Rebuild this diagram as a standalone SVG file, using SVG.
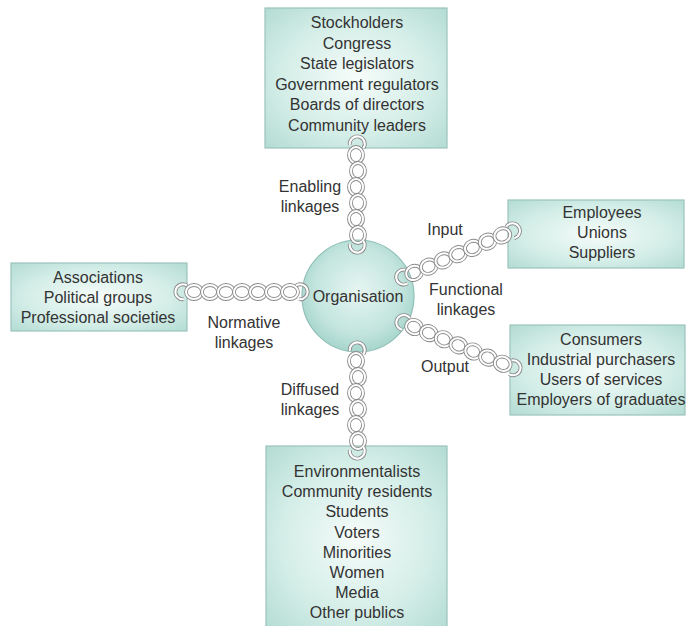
<svg xmlns="http://www.w3.org/2000/svg" xmlns:xlink="http://www.w3.org/1999/xlink" width="686" height="626" viewBox="0 0 686 626">
<defs>
<radialGradient id="boxg" cx="50%" cy="50%" r="70%">
<stop offset="0" stop-color="#f6fcfa"/>
<stop offset="0.6" stop-color="#d3ede7"/>
<stop offset="1" stop-color="#b3dcd3"/>
</radialGradient>
<radialGradient id="circg" cx="50%" cy="45%" r="55%">
<stop offset="0" stop-color="#e6f5f2"/>
<stop offset="0.7" stop-color="#c3e5de"/>
<stop offset="1" stop-color="#a6d5cc"/>
</radialGradient>
<g id="ring">
<ellipse rx="8" ry="7" class="lo"/>
<ellipse rx="8" ry="7" class="li"/>
</g>
<g id="hookS">
<path d="M 6,-6.5 A 7.5 7.5 0 1 0 3,7.2" class="lo"/>
<path d="M 6,-6.5 A 7.5 7.5 0 1 0 3,7.2" class="li"/>
</g>
<g id="hookE">
<path d="M -6,-6.5 A 7.5 7.5 0 1 1 -3,7.2" class="lo"/>
<path d="M -6,-6.5 A 7.5 7.5 0 1 1 -3,7.2" class="li"/>
</g>
</defs>
<style>
.box{fill:url(#boxg);stroke:#9cc4bc;stroke-width:1.2}
.t{font-family:"Liberation Sans",Arial,sans-serif;font-size:16px;fill:#333;text-anchor:middle}
.lo{fill:none;stroke:#8a8a8a;stroke-width:3.8}
.li{fill:none;stroke:#ffffff;stroke-width:2}
</style>
<rect width="686" height="626" fill="#ffffff"/>

<g id="top">
<rect class="box" x="265" y="8" width="182" height="140"/>
<text class="t" x="357" y="28">Stockholders</text>
<text class="t" x="357" y="48.5">Congress</text>
<text class="t" x="357" y="69">State legislators</text>
<text class="t" x="357" y="89.5">Government regulators</text>
<text class="t" x="357" y="110">Boards of directors</text>
<text class="t" x="357" y="130.5">Community leaders</text>
</g>
<g id="left">
<rect class="box" x="11" y="263" width="176" height="68"/>
<text class="t" x="98" y="283">Associations</text>
<text class="t" x="98" y="303">Political groups</text>
<text class="t" x="98" y="323">Professional societies</text>
</g>
<g id="rightTop">
<rect class="box" x="508" y="200" width="176" height="68"/>
<text class="t" x="602" y="218">Employees</text>
<text class="t" x="602" y="238">Unions</text>
<text class="t" x="602" y="258">Suppliers</text>
</g>
<g id="rightBottom">
<rect class="box" x="510" y="325" width="175" height="90"/>
<text class="t" x="601" y="345">Consumers</text>
<text class="t" x="601" y="365">Industrial purchasers</text>
<text class="t" x="601" y="385">Users of services</text>
<text class="t" x="601" y="405">Employers of graduates</text>
</g>
<g id="bottom">
<rect class="box" x="266" y="446" width="181" height="186"/>
<text class="t" x="357" y="477">Environmentalists</text>
<text class="t" x="357" y="497">Community residents</text>
<text class="t" x="357" y="517">Students</text>
<text class="t" x="357" y="537.5">Voters</text>
<text class="t" x="357" y="558">Minorities</text>
<text class="t" x="357" y="578">Women</text>
<text class="t" x="357" y="598">Media</text>
<text class="t" x="357" y="618">Other publics</text>
</g>
<g id="organisation">
<circle cx="358" cy="296" r="56" fill="url(#circg)" stroke="#8fc0b7" stroke-width="1.2"/>
<text class="t" x="358" y="302">Organisation</text>
</g>

<g id="connectors">
<!-- Enabling (top) -->
<g transform="translate(357,142) rotate(90)">
<use xlink:href="#hookS" x="0"/>
<use xlink:href="#ring" x="13" y="1"/>
<use xlink:href="#ring" x="29" y="-1"/>
<use xlink:href="#ring" x="45" y="1"/>
<use xlink:href="#ring" x="61" y="-1"/>
<use xlink:href="#ring" x="77" y="1"/>
<use xlink:href="#ring" x="93" y="-1"/>
<use xlink:href="#hookE" x="105"/>
</g>
<!-- Diffused (bottom) -->
<g transform="translate(357,348) rotate(90)">
<use xlink:href="#hookS" x="0"/>
<use xlink:href="#ring" x="13" y="1"/>
<use xlink:href="#ring" x="29" y="-1"/>
<use xlink:href="#ring" x="45" y="1"/>
<use xlink:href="#ring" x="61" y="-1"/>
<use xlink:href="#ring" x="77" y="1"/>
<use xlink:href="#ring" x="93" y="-1"/>
<use xlink:href="#hookE" x="105"/>
</g>
<!-- Normative (left) -->
<g transform="translate(181,292)">
<use xlink:href="#hookS" x="0"/>
<use xlink:href="#ring" x="13"/>
<use xlink:href="#ring" x="29"/>
<use xlink:href="#ring" x="45"/>
<use xlink:href="#ring" x="61"/>
<use xlink:href="#ring" x="77"/>
<use xlink:href="#ring" x="93"/>
<use xlink:href="#ring" x="109"/>
<use xlink:href="#hookE" x="121"/>
</g>
<!-- Input (functional, upper) -->
<g transform="translate(402,278) rotate(-23)">
<use xlink:href="#hookS" x="0"/>
<use xlink:href="#ring" x="13"/>
<use xlink:href="#ring" x="29"/>
<use xlink:href="#ring" x="45"/>
<use xlink:href="#ring" x="61"/>
<use xlink:href="#ring" x="77"/>
<use xlink:href="#ring" x="93"/>
<use xlink:href="#ring" x="109"/>
<use xlink:href="#hookE" x="122"/>
</g>
<!-- Output (functional, lower) -->
<g transform="translate(402,322) rotate(22.5)">
<use xlink:href="#hookS" x="0"/>
<use xlink:href="#ring" x="13"/>
<use xlink:href="#ring" x="29"/>
<use xlink:href="#ring" x="45"/>
<use xlink:href="#ring" x="61"/>
<use xlink:href="#ring" x="77"/>
<use xlink:href="#ring" x="93"/>
<use xlink:href="#ring" x="109"/>
<use xlink:href="#hookE" x="122"/>
</g>
<g id="labels">
<text class="t" x="310" y="192">Enabling</text>
<text class="t" x="310" y="212">linkages</text>
<text class="t" x="445" y="235">Input</text>
<text class="t" x="466" y="295">Functional</text>
<text class="t" x="466" y="315">linkages</text>
<text class="t" x="244" y="328">Normative</text>
<text class="t" x="244" y="348">linkages</text>
<text class="t" x="445" y="372">Output</text>
<text class="t" x="310" y="395">Diffused</text>
<text class="t" x="310" y="415">linkages</text>
</g>
</g>
</svg>
